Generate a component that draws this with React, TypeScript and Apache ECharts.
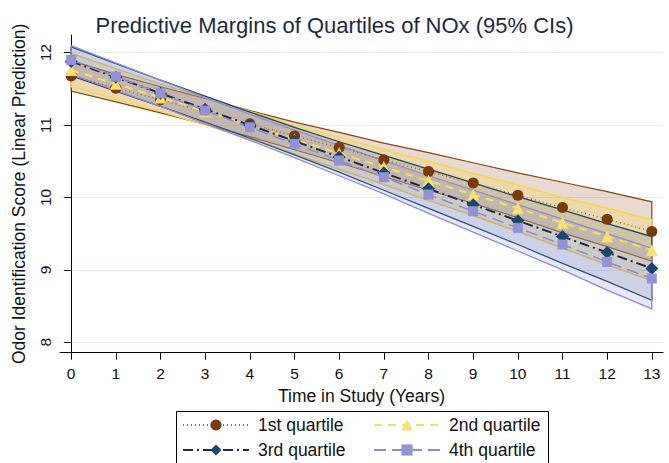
import React, { useEffect, useRef } from "react";
import * as echarts from "echarts";

const years = [0, 1, 2, 3, 4, 5, 6, 7, 8, 9, 10, 11, 12, 13];
const yTicks = [8, 9, 10, 11, 12];

const q1Mean = [11.68, 11.51, 11.35, 11.19, 11.02, 10.85, 10.69, 10.52, 10.36, 10.2, 10.03, 9.86, 9.7, 9.53];
const q1Upper = [11.89, 11.7, 11.53, 11.37, 11.2, 11.04, 10.9, 10.75, 10.62, 10.48, 10.34, 10.21, 10.08, 9.94];
const q1Lower = [11.47, 11.32, 11.17, 11.01, 10.84, 10.66, 10.48, 10.29, 10.1, 9.92, 9.72, 9.51, 9.32, 9.12];

const q2Mean = [11.76, 11.57, 11.38, 11.19, 11.0, 10.8, 10.61, 10.42, 10.23, 10.04, 9.85, 9.65, 9.46, 9.27];
const q2Upper = [11.99, 11.78, 11.57, 11.38, 11.19, 11.0, 10.83, 10.66, 10.5, 10.33, 10.17, 10.0, 9.85, 9.69];
const q2Lower = [11.53, 11.36, 11.19, 11.0, 10.81, 10.6, 10.39, 10.18, 9.96, 9.75, 9.53, 9.3, 9.07, 8.85];

const q3Mean = [11.88, 11.66, 11.44, 11.22, 11.0, 10.78, 10.56, 10.34, 10.12, 9.9, 9.68, 9.46, 9.24, 9.02];
const q3Upper = [12.08, 11.85, 11.62, 11.4, 11.18, 10.97, 10.77, 10.58, 10.39, 10.2, 10.01, 9.83, 9.64, 9.46];
const q3Lower = [11.68, 11.47, 11.26, 11.04, 10.82, 10.59, 10.35, 10.1, 9.85, 9.6, 9.35, 9.09, 8.84, 8.58];

const q4Mean = [11.9, 11.67, 11.44, 11.2, 10.97, 10.74, 10.51, 10.28, 10.04, 9.81, 9.58, 9.35, 9.11, 8.88];
const q4Upper = [12.1, 11.86, 11.62, 11.38, 11.15, 10.93, 10.72, 10.51, 10.3, 10.1, 9.9, 9.7, 9.5, 9.3];
const q4Lower = [11.7, 11.48, 11.26, 11.02, 10.79, 10.55, 10.3, 10.05, 9.78, 9.52, 9.26, 9.0, 8.72, 8.46];

const seriesNames = ["1st quartile", "2nd quartile", "3rd quartile", "4th quartile"];

const FONT = "'Liberation Sans', Arial, Helvetica, sans-serif";

function band(name: string, lower: number[], upper: number[], fill: string, stroke: string, lw: number) {
  return {
    type: "custom",
    name,
    silent: true,
    data: years.map((x, i) => [x, lower[i], upper[i]]),
    encode: { x: 0, y: [1, 2] },
    renderItem: (params: any, api: any) => {
      if (params.dataIndex !== 0) return { type: "group", children: [] };
      const pts: number[][] = [];
      for (let i = 0; i < years.length; i++) pts.push(api.coord([years[i], upper[i]]));
      for (let i = years.length - 1; i >= 0; i--) pts.push(api.coord([years[i], lower[i]]));
      return {
        type: "polygon",
        shape: { points: pts },
        style: { fill, stroke, lineWidth: lw },
      };
    },
  };
}

function meanLine(name: string, mean: number[], symbol: string, size: number, markerColor: string, lineColor: string, width: number, dash: any) {
  return {
    type: "line",
    name,
    data: years.map((x, i) => [x, mean[i]]),
    symbol,
    symbolSize: size,
    showAllSymbol: true,
    itemStyle: { color: markerColor, opacity: 1 },
    lineStyle: { color: lineColor, width, type: dash },
    emphasis: { disabled: true },
  };
}

export default function App() {
  const ref = useRef<HTMLDivElement>(null);
  useEffect(() => {
    if (!ref.current) return;
    const chart = echarts.init(ref.current, null, { renderer: "svg" });
    const legendCommon = {
      orient: "horizontal",
      itemWidth: 66,
      itemHeight: 14,
      padding: 0,
      selectedMode: false,
      textStyle: { fontSize: 17.5, color: "#111", fontFamily: FONT, padding: [0, 0, 0, 4] },
    };
    chart.setOption({
      animation: false,
      backgroundColor: "#ffffff",
      textStyle: { fontFamily: FONT },
      title: {
        text: "Predictive Margins of Quartiles of NOx (95% CIs)",
        left: "center",
        top: 9,
        textStyle: { fontSize: 22, fontWeight: "normal", color: "#1c2a44", fontFamily: FONT },
      },
      grid: { left: 60, right: 6, top: 35, bottom: 110.3, containLabel: false },
      xAxis: {
        type: "value",
        min: -0.25,
        max: 13.25,
        name: "Time in Study (Years)",
        nameLocation: "middle",
        nameGap: 30,
        nameTextStyle: { fontSize: 17.5, color: "#111", fontFamily: FONT },
        axisLine: { show: true, onZero: false, lineStyle: { color: "#000", width: 1 } },
        axisTick: { show: true, length: 7, customValues: years, lineStyle: { color: "#000" } },
        axisLabel: { customValues: years, fontSize: 15.5, color: "#111", margin: 13, fontFamily: FONT },
        splitLine: { show: false },
      },
      yAxis: {
        type: "value",
        min: 7.855,
        max: 12.245,
        name: "Odor Identification Score (Linear Prediction)",
        nameLocation: "middle",
        nameGap: 32,
        nameTextStyle: { fontSize: 17.5, color: "#111", fontFamily: FONT },
        axisLine: { show: true, lineStyle: { color: "#000", width: 1 } },
        axisTick: { show: true, length: 7, customValues: yTicks, lineStyle: { color: "#000" } },
        axisLabel: { customValues: yTicks, rotate: 90, fontSize: 15.5, color: "#111", margin: 7, fontFamily: FONT },
        splitLine: { show: true, lineStyle: { color: "#e4eef1", width: 1.2 } },
      },
      legend: [
        { ...legendCommon, data: [seriesNames[0]], left: 182, top: 416 },
        { ...legendCommon, data: [seriesNames[1]], left: 373, top: 416 },
        { ...legendCommon, data: [seriesNames[2]], left: 182, top: 441 },
        { ...legendCommon, data: [seriesNames[3]], left: 373, top: 441 },
      ],
      graphic: [
        {
          type: "rect",
          z: 0,
          shape: { x: 176.5, y: 411.5, width: 372, height: 60 },
          style: { fill: "#ffffff", stroke: "#000", lineWidth: 1 },
        },
      ],
      series: [
        band("ci1", q1Lower, q1Upper, "rgba(139,69,19,0.2)", "#8b4513", 1.2),
        band("ci2", q2Lower, q2Upper, "rgba(250,215,70,0.25)", "#f7d94a", 1.5),
        band("ci3", q3Lower, q3Upper, "rgba(26,71,111,0.14)", "#1a476f", 1.3),
        band("ci4", q4Lower, q4Upper, "rgba(140,136,215,0.2)", "#8f8cd8", 1.3),
        meanLine(seriesNames[0], q1Mean, "circle", 11, "#7a3a06", "#9a6a48", 1.5, [1, 3]),
        meanLine(seriesNames[1], q2Mean, "triangle", 12, "#fbe06a", "#f8de5a", 2, [8, 6]),
        meanLine(seriesNames[2], q3Mean, "diamond", 13, "#1a476f", "#1c2c4c", 2, [10, 4, 2, 4]),
        meanLine(seriesNames[3], q4Mean, "rect", 10, "#9491d9", "#8e8bd6", 1.5, [12, 6]),
      ],
    });
    return () => chart.dispose();
  }, []);
  return <div ref={ref} style={{ position: "fixed", left: 0, top: 0, width: 669, height: 463 }} />;
}
